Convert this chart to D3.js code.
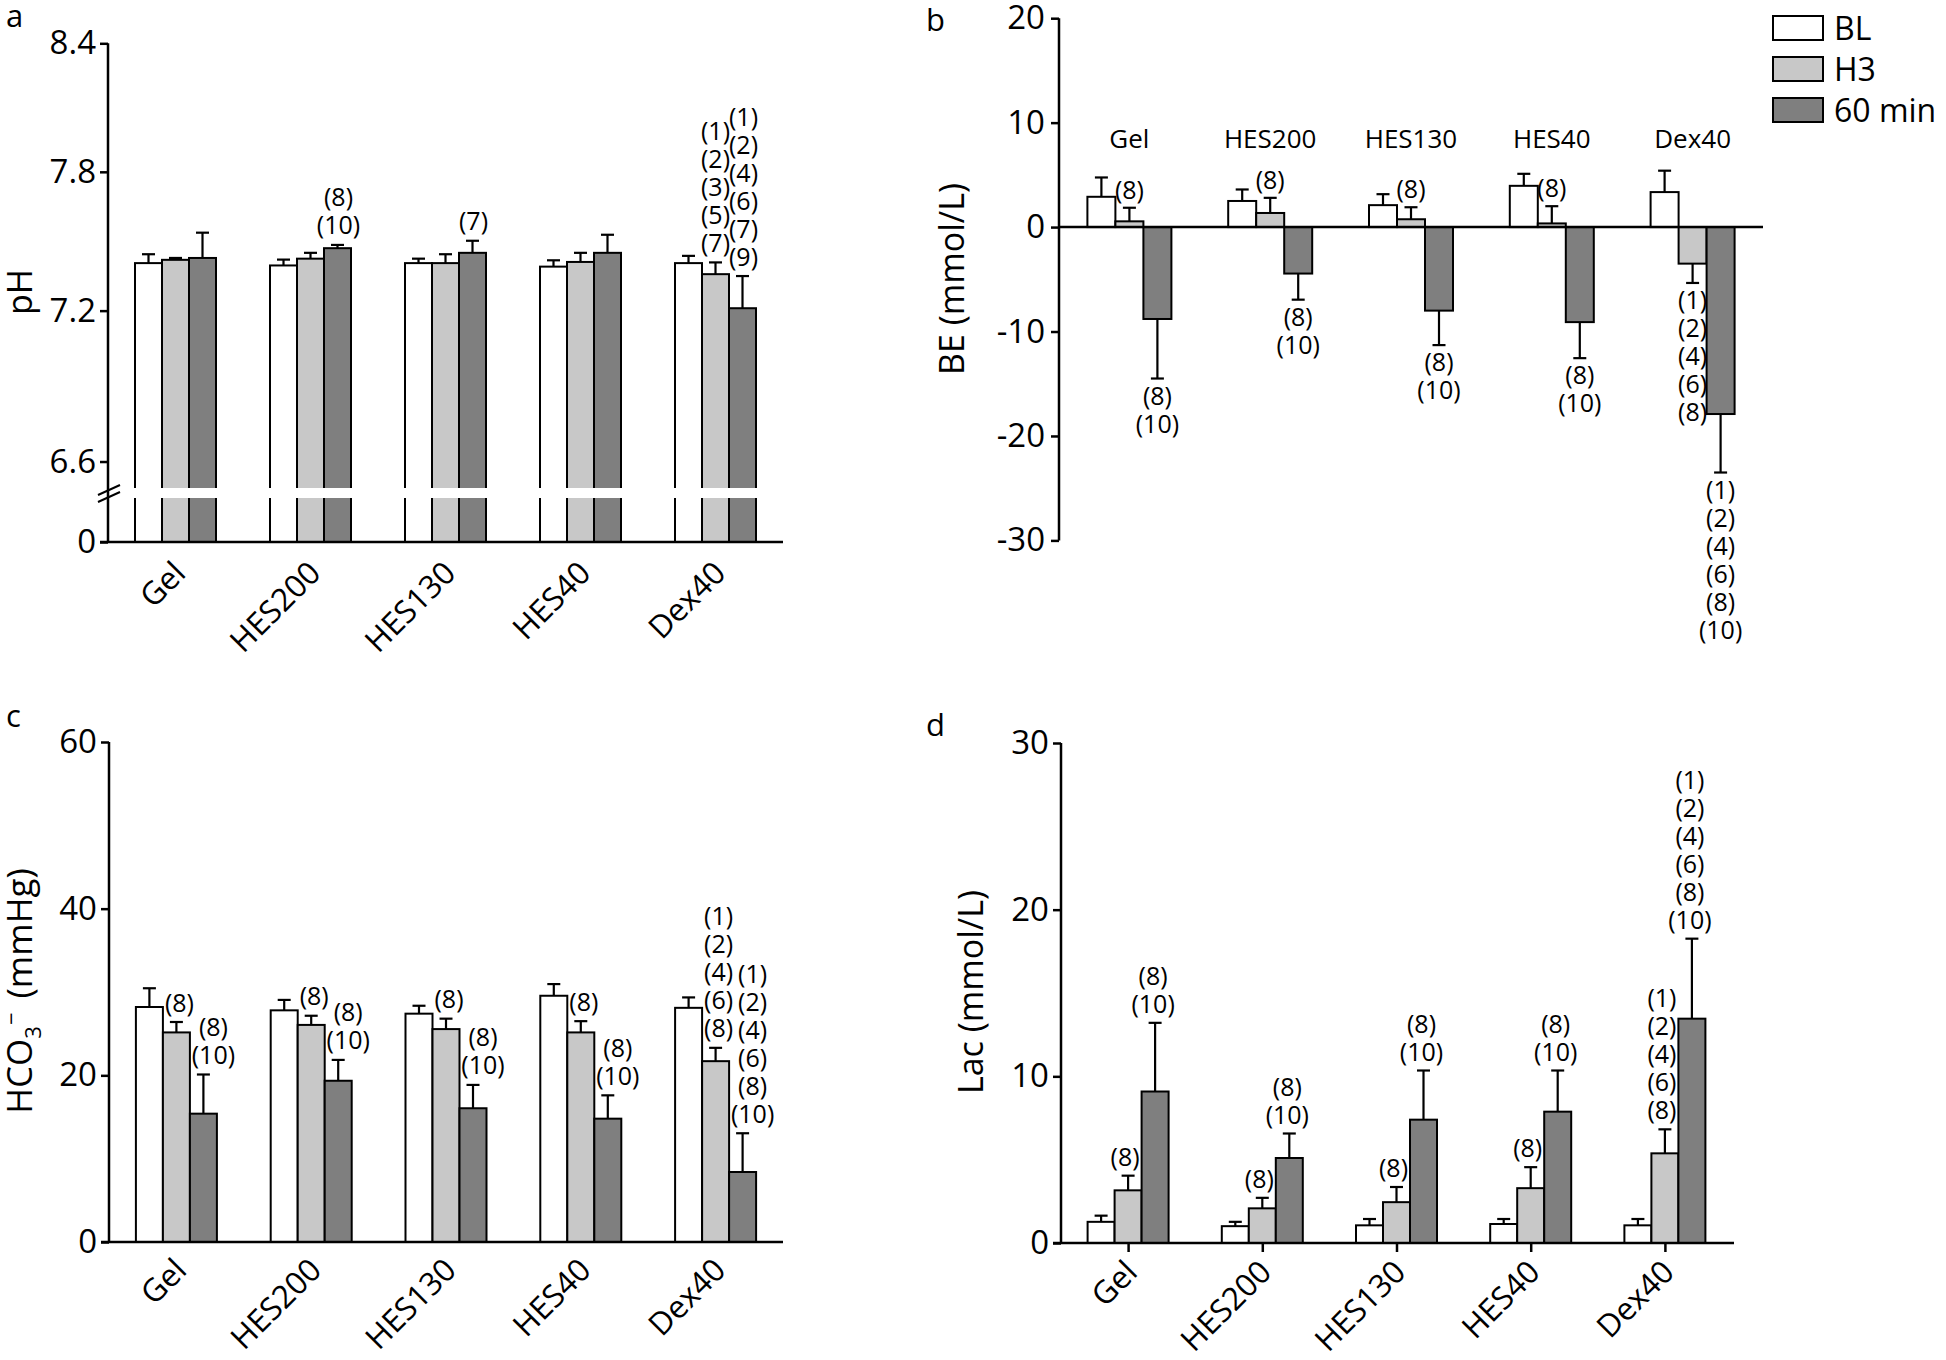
<!DOCTYPE html>
<html><head><meta charset="utf-8">
<script src="https://cdn.jsdelivr.net/npm/d3@7"></script>
<style>
body{margin:0;background:#fff}
svg{display:block}
text{font-family:"Open Sans",sans-serif;fill:#000}
</style>
</head><body>
<svg id="chart" width="1946" height="1360"></svg>
<script>
// ---------------- data ----------------
const categories = ["Gel", "HES200", "HES130", "HES40", "Dex40"];
const seriesNames = ["BL", "H3", "60 min"];
const seriesFill = ["#ffffff", "#c8c8c8", "#7f7f7f"];

// a: pH
const pH_BL    = [7.40, 7.39, 7.40, 7.385, 7.40];
const pH_BL_sd = [0.038, 0.025, 0.019, 0.027, 0.031];
const pH_H3    = [7.414, 7.419, 7.40, 7.405, 7.353];
const pH_H3_sd = [0.008, 0.025, 0.038, 0.039, 0.05];
const pH_60    = [7.422, 7.464, 7.444, 7.444, 7.21];
const pH_60_sd = [0.109, 0.014, 0.052, 0.078, 0.135];
const pH_ticks = [6.6, 7.2, 7.8, 8.4];
const pH_sig_BL = [[], [], [], [], []];
const pH_sig_H3 = [[], [], [], [], ["(1)", "(2)", "(3)", "(5)", "(7)"]];
const pH_sig_60 = [[], ["(8)", "(10)"], ["(7)"], [], ["(1)", "(2)", "(4)", "(6)", "(7)", "(9)"]];

// b: BE (mmol/L)
const BE_BL    = [2.9, 2.5, 2.1, 3.95, 3.35];
const BE_BL_sd = [1.85, 1.1, 1.05, 1.15, 2.05];
const BE_H3    = [0.55, 1.35, 0.75, 0.35, -3.5];
const BE_H3_sd = [1.3, 1.45, 1.15, 1.65, 1.85];
const BE_60    = [-8.8, -4.45, -8.0, -9.1, -17.9];
const BE_60_sd = [5.7, 2.5, 3.3, 3.45, 5.6];
const BE_ticks = [-30, -20, -10, 0, 10, 20];
const BE_sig_BL = [[], [], [], [], []];
const BE_sig_H3 = [["(8)"], ["(8)"], ["(8)"], ["(8)"], ["(1)", "(2)", "(4)", "(6)", "(8)"]];
const BE_sig_60 = [["(8)", "(10)"], ["(8)", "(10)"], ["(8)", "(10)"], ["(8)", "(10)"], ["(1)", "(2)", "(4)", "(6)", "(8)", "(10)"]];

// c: HCO3-
const HCO_BL    = [28.2, 27.8, 27.4, 29.55, 28.1];
const HCO_BL_sd = [2.25, 1.25, 0.95, 1.4, 1.25];
const HCO_H3    = [25.15, 26.05, 25.55, 25.15, 21.7];
const HCO_H3_sd = [1.25, 1.1, 1.25, 1.35, 1.6];
const HCO_60    = [15.4, 19.35, 16.05, 14.8, 8.4];
const HCO_60_sd = [4.7, 2.5, 2.8, 2.8, 4.65];
const HCO_ticks = [0, 20, 40, 60];
const HCO_sig_BL = [[], [], [], [], []];
const HCO_sig_H3 = [["(8)"], ["(8)"], ["(8)"], ["(8)"], ["(1)", "(2)", "(4)", "(6)", "(8)"]];
const HCO_sig_60 = [["(8)", "(10)"], ["(8)", "(10)"], ["(8)", "(10)"], ["(8)", "(10)"], ["(1)", "(2)", "(4)", "(6)", "(8)", "(10)"]];

// d: Lac (mmol/L)
const Lac_BL    = [1.27, 1.01, 1.06, 1.14, 1.06];
const Lac_BL_sd = [0.37, 0.26, 0.38, 0.3, 0.38];
const Lac_H3    = [3.16, 2.08, 2.45, 3.29, 5.38];
const Lac_H3_sd = [0.88, 0.63, 0.91, 1.26, 1.44];
const Lac_60    = [9.09, 5.1, 7.4, 7.88, 13.46];
const Lac_60_sd = [4.12, 1.47, 2.95, 2.47, 4.8];
const Lac_ticks = [0, 10, 20, 30];
const Lac_sig_BL = [[], [], [], [], []];
const Lac_sig_H3 = [["(8)"], ["(8)"], ["(8)"], ["(8)"], ["(1)", "(2)", "(4)", "(6)", "(8)"]];
const Lac_sig_60 = [["(8)", "(10)"], ["(8)", "(10)"], ["(8)", "(10)"], ["(8)", "(10)"], ["(1)", "(2)", "(4)", "(6)", "(8)", "(10)"]];

// ---------------- drawing ----------------
const FONT = '"Open Sans", sans-serif';
const svg = d3.select("#chart");
svg.append("rect").attr("width", 1946).attr("height", 1360).attr("fill", "#fff");

function styleAxis(sel) {
  sel.attr("font-family", FONT).attr("font-size", 33);
  sel.selectAll("line").attr("stroke", "#000").attr("stroke-width", 2.5);
  sel.selectAll("path").remove();
  sel.selectAll("text").attr("fill", "#000");
}

function drawBars(g, o) {
  const bw = o.xs.bandwidth();
  seriesNames.forEach((s, si) => {
    categories.forEach((c, ci) => {
      const v = o.means[si][ci], e = o.sds[si][ci];
      const bx = o.x(c) + o.xs(s), cx = bx + bw / 2;
      const yv = o.y(v);
      const neg = v < 0;
      const yEnd = o.y(neg ? v - e : v + e);
      g.append("line").attr("x1", cx).attr("x2", cx).attr("y1", yv).attr("y2", yEnd)
        .attr("stroke", "#000").attr("stroke-width", 2.2);
      g.append("line").attr("x1", cx - 6.5).attr("x2", cx + 6.5).attr("y1", yEnd).attr("y2", yEnd)
        .attr("stroke", "#000").attr("stroke-width", 2.2);
      g.append("rect").attr("x", bx).attr("y", Math.min(yv, o.baseY)).attr("width", bw)
        .attr("height", Math.abs(o.baseY - yv)).attr("fill", seriesFill[si])
        .attr("stroke", "#000").attr("stroke-width", 2);
      const labs = o.sigs[si][ci], n = labs.length;
      labs.forEach((t, i) => {
        const ly = neg ? yEnd + o.gap + i * o.lh : yEnd - o.gap - (n - 1 - i) * o.lh;
        g.append("text").attr("x", cx + o.labelDx[si]).attr("y", ly).attr("dy", "0.34em")
          .attr("text-anchor", "middle").attr("font-size", 25).text(t);
      });
    });
  });
}

function rotatedLabels(g, x, yAxis, dx, dy) {
  categories.forEach(c => {
    g.append("text").attr("text-anchor", "end").attr("font-size", 31.5)
      .attr("transform", `translate(${x(c) + dx},${yAxis + dy}) rotate(-45)`).text(c);
  });
}

function yTitle(g, x, y, size, txt) {
  return g.append("text").attr("text-anchor", "middle").attr("font-size", size)
    .attr("dy", "0.35em").attr("transform", `translate(${x},${y}) rotate(-90)`).text(txt);
}

function panelLetter(x, y, t) {
  svg.append("text").attr("x", x).attr("y", y).attr("font-size", 31).text(t);
}

// ===== Panel a =====
{
  const g = svg.append("g");
  const x = d3.scalePoint().domain(categories).range([108, 783]).padding(0.5);
  const xs = d3.scaleBand().domain(seriesNames).range([-40.5, 40.5]);
  const y = d3.scaleLog().domain([6.5, 8.4]).range([488, 43.3]);
  const yLow = d3.scaleLinear().domain([0, 1]).range([542, 498]);
  const baseY = 542;
  drawBars(g, {x, xs, y, baseY, means: [pH_BL, pH_H3, pH_60], sds: [pH_BL_sd, pH_H3_sd, pH_60_sd],
    sigs: [pH_sig_BL, pH_sig_H3, pH_sig_60], labelDx: [0, 0, 1], gap: 19, lh: 28});
  // axis break band
  g.append("rect").attr("x", 111).attr("y", 488).attr("width", 680).attr("height", 10).attr("fill", "#fff");
  // axes
  g.append("line").attr("x1", 108).attr("x2", 108).attr("y1", 43.3).attr("y2", 542)
    .attr("stroke", "#000").attr("stroke-width", 2.5);
  g.append("line").attr("x1", 100).attr("x2", 783).attr("y1", baseY).attr("y2", baseY)
    .attr("stroke", "#000").attr("stroke-width", 2.5);
  g.append("g").attr("transform", "translate(108,0)")
    .call(d3.axisLeft(y).tickValues(pH_ticks).tickFormat(d3.format(".1f")).tickSize(8).tickPadding(4)).call(styleAxis);
  g.append("g").attr("transform", "translate(108,0)")
    .call(d3.axisLeft(yLow).tickValues([0]).tickFormat(d3.format("d")).tickSize(8).tickPadding(4)).call(styleAxis);
  // break marks
  [0, 7].forEach(o => g.append("line").attr("x1", 98).attr("x2", 120).attr("y1", 495 + o).attr("y2", 485 + o)
    .attr("stroke", "#000").attr("stroke-width", 2));
  rotatedLabels(g, x, baseY, 12, 33);
  yTitle(g, 20, 292, 34, "pH");
  panelLetter(6, 27, "a");
}

// ===== Panel b =====
{
  const g = svg.append("g");
  const x = d3.scalePoint().domain(categories).range([1059, 1763]).padding(0.5);
  const xs = d3.scaleBand().domain(seriesNames).range([-42, 42]);
  const y = d3.scaleLinear().domain([-30, 20]).range([540.4, 18.2]);
  const baseY = y(0);
  drawBars(g, {x, xs, y, baseY, means: [BE_BL, BE_H3, BE_60], sds: [BE_BL_sd, BE_H3_sd, BE_60_sd],
    sigs: [BE_sig_BL, BE_sig_H3, BE_sig_60], labelDx: [0, 0, 0], gap: 17.5, lh: 28});
  g.append("line").attr("x1", 1059).attr("x2", 1763).attr("y1", baseY).attr("y2", baseY)
    .attr("stroke", "#000").attr("stroke-width", 2.5);
  g.append("line").attr("x1", 1059).attr("x2", 1059).attr("y1", 18.2).attr("y2", 540.4)
    .attr("stroke", "#000").attr("stroke-width", 2.5);
  g.append("g").attr("transform", "translate(1059,0)")
    .call(d3.axisLeft(y).tickValues(BE_ticks).tickFormat(d3.format("d")).tickSize(8).tickPadding(6)).call(styleAxis);
  g.selectAll(".tick text").text(function(){ return d3.select(this).text().replace("−", "-"); });
  categories.forEach(c => g.append("text").attr("x", x(c)).attr("y", 148).attr("text-anchor", "middle")
    .attr("font-size", 26).text(c));
  yTitle(g, 952, 279, 34, "BE (mmol/L)");
  panelLetter(926, 31, "b");
  // legend
  seriesNames.forEach((s, i) => {
    const ly = 16 + i * 41;
    g.append("rect").attr("x", 1773).attr("y", ly).attr("width", 50).attr("height", 24)
      .attr("fill", seriesFill[i]).attr("stroke", "#000").attr("stroke-width", 2);
    g.append("text").attr("x", 1834).attr("y", ly + 12).attr("dy", "0.36em").attr("font-size", 32).text(s);
  });
}

// ===== Panel c =====
{
  const g = svg.append("g");
  const x = d3.scalePoint().domain(categories).range([109, 783]).padding(0.5);
  const xs = d3.scaleBand().domain(seriesNames).range([-40.5, 40.5]);
  const y = d3.scaleLinear().domain([0, 60]).range([1242, 742]);
  const baseY = y(0);
  drawBars(g, {x, xs, y, baseY, means: [HCO_BL, HCO_H3, HCO_60], sds: [HCO_BL_sd, HCO_H3_sd, HCO_60_sd],
    sigs: [HCO_sig_BL, HCO_sig_H3, HCO_sig_60], labelDx: [0, 3, 10], gap: 19, lh: 28});
  g.append("line").attr("x1", 101).attr("x2", 783).attr("y1", baseY).attr("y2", baseY)
    .attr("stroke", "#000").attr("stroke-width", 2.5);
  g.append("line").attr("x1", 109).attr("x2", 109).attr("y1", 742).attr("y2", 1242)
    .attr("stroke", "#000").attr("stroke-width", 2.5);
  g.append("g").attr("transform", "translate(109,0)")
    .call(d3.axisLeft(y).tickValues(HCO_ticks).tickFormat(d3.format("d")).tickSize(8).tickPadding(4)).call(styleAxis);
  rotatedLabels(g, x, baseY, 12, 30);
  const t = g.append("text").attr("font-size", 35).attr("transform", "translate(20,991) rotate(-90)")
    .attr("text-anchor", "middle").attr("dy", "0.35em");
  t.append("tspan").text("HCO");
  t.append("tspan").attr("font-size", 22).attr("dy", 9).text("3");
  t.append("tspan").attr("font-size", 22).attr("dy", -22).attr("dx", 1).text("−");
  t.append("tspan").attr("dy", 13).attr("dx", 14).text("(mmHg)");
  panelLetter(6, 727, "c");
}

// ===== Panel d =====
{
  const g = svg.append("g");
  const x = d3.scalePoint().domain(categories).range([1061, 1732]).padding(0.5);
  const xs = d3.scaleBand().domain(seriesNames).range([-40.5, 40.5]);
  const y = d3.scaleLinear().domain([0, 30]).range([1243, 743]);
  const baseY = y(0);
  drawBars(g, {x, xs, y, baseY, means: [Lac_BL, Lac_H3, Lac_60], sds: [Lac_BL_sd, Lac_H3_sd, Lac_60_sd],
    sigs: [Lac_sig_BL, Lac_sig_H3, Lac_sig_60], labelDx: [0, -3, -2], gap: 18.5, lh: 28});
  g.append("line").attr("x1", 1053).attr("x2", 1734).attr("y1", baseY).attr("y2", baseY)
    .attr("stroke", "#000").attr("stroke-width", 2.5);
  g.append("line").attr("x1", 1061).attr("x2", 1061).attr("y1", 743).attr("y2", 1243)
    .attr("stroke", "#000").attr("stroke-width", 2.5);
  g.append("g").attr("transform", "translate(1061,0)")
    .call(d3.axisLeft(y).tickValues(Lac_ticks).tickFormat(d3.format("d")).tickSize(8).tickPadding(4)).call(styleAxis);
  g.append("g").attr("transform", `translate(0,${baseY})`)
    .call(d3.axisBottom(x).tickSize(9).tickFormat("")).call(styleAxis);
  rotatedLabels(g, x, baseY, 11, 31);
  yTitle(g, 971, 992, 34, "Lac (mmol/L)");
  panelLetter(926, 736, "d");
}
</script>
</body></html>
